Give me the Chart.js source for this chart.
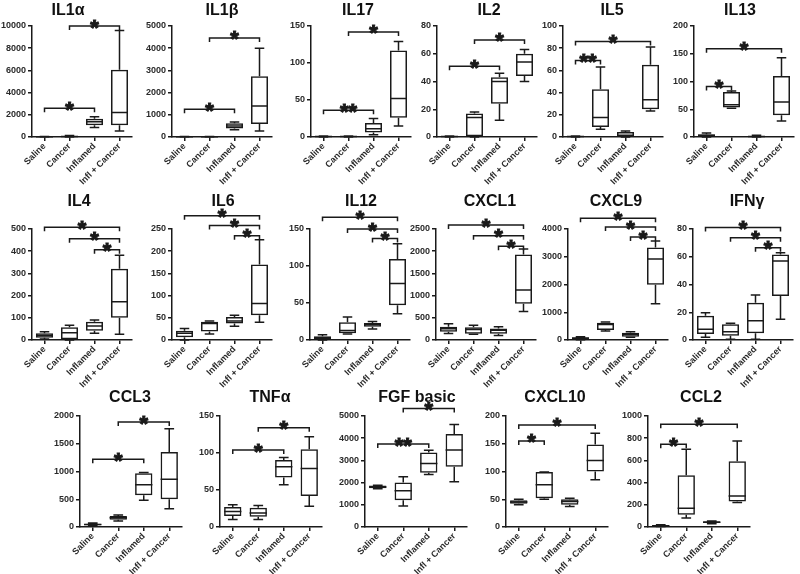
<!DOCTYPE html>
<html>
<head>
<meta charset="utf-8">
<script src="https://cdn.jsdelivr.net/npm/chart.js@4.4.1/dist/chart.umd.min.js"></script>
<style>
  body { margin: 0; background: #fff; }
  #fig { position: relative; width: 800px; height: 574px; overflow: hidden; background: #fff; }
  #fig canvas { position: absolute; }
  .ttl { position: absolute; font: bold 16px "Liberation Sans", Arial, sans-serif; line-height: 16px; color: #111; transform: translateX(-50%); white-space: nowrap; }
</style>
</head>
<body>
<div id="fig"></div>
<script>
// Groups on every x axis
const groups = ['Saline', 'Cancer', 'Inflamed', 'Infl + Cancer'];

// Box summaries per group: [min, q1, median, q3, max]
// Significance brackets: [fromGroup, toGroup, level, mark]
const il1a = [[0, 5, 15, 30, 50], [0, 20, 50, 100, 140], [850, 1050, 1380, 1650, 1830], [550, 1050, 2200, 6050, 9600]];
const il1aTicks = [0, 2000, 4000, 6000, 8000, 10000];
const il1aSig = [[0, 2, 2580, '*'], [1, 3, 10000, '*']];

const il1b = [[0, 3, 8, 15, 20], [0, 3, 8, 15, 22], [330, 380, 500, 620, 680], [270, 580, 1400, 2740, 4000]];
const il1bTicks = [0, 1000, 2000, 3000, 4000, 5000];
const il1bSig = [[0, 2, 1250, '*'], [1, 3, 4460, '*']];

const il17 = [[0, 0.3, 0.6, 1, 1.2], [0, 0.3, 0.6, 1, 1.2], [3, 6, 11, 19, 25], [15, 26, 52, 117, 129]];
const il17Ticks = [0, 50, 100, 150];
const il17Sig = [[0, 2, 36, '**'], [1, 3, 142, '*']];

const il2 = [[0, 0.2, 0.4, 0.6, 0.8], [0, 0.5, 14, 17, 18], [12, 24, 40, 43, 46], [40, 44, 54, 60, 63]];
const il2Ticks = [0, 20, 40, 60, 80];
const il2Sig = [[0, 2, 51, '*'], [1, 3, 70, '*']];

const il5 = [[0, 0.2, 0.4, 0.6, 0.8], [7, 9, 17.5, 43, 63], [0, 0.5, 1.5, 4.5, 5.5], [23.5, 25, 33.5, 65, 81]];
const il5Ticks = [0, 20, 40, 60, 80, 100];
const il5Sig = [[0, 1, 69, '**'], [0, 3, 86, '*']];

const il13 = [[0, 1, 2.5, 5, 7], [52, 53, 58, 81, 83], [0, 0.5, 1, 2, 3], [29, 39, 63, 110, 143]];
const il13Ticks = [0, 50, 100, 150, 200];
const il13Sig = [[0, 1, 91, '*'], [0, 3, 159, '*']];

const il4 = [[4, 10, 20, 30, 37], [0, 3, 33, 57, 67], [30, 42, 63, 82, 90], [26, 100, 172, 321, 382]];
const il4Ticks = [0, 100, 200, 300, 400, 500];
const il4Sig = [[0, 3, 508, '*'], [1, 3, 456, '*'], [2, 3, 407, '*']];

const il6 = [[0, 6, 15, 21, 26], [13.5, 19, 37, 41, 43], [31, 37, 43, 52, 56], [40, 56, 82, 170, 226]];
const il6Ticks = [0, 50, 100, 150, 200, 250];
const il6Sig = [[0, 3, 280, '*'], [1, 3, 258, '*'], [2, 3, 235, '*']];

const il12 = [[0, 1, 3, 5, 7], [8, 9, 13, 24, 31], [15, 18, 21, 23, 25], [35.5, 47, 76.5, 109.5, 130]];
const il12Ticks = [0, 50, 100, 150];
const il12Sig = [[0, 3, 166, '*'], [1, 3, 150, '*'], [2, 3, 137, '*']];

const cxcl1 = [[149, 186, 253, 297, 364], [127, 142, 238, 289, 333], [104, 142, 222, 260, 297], [644, 815, 1125, 1925, 2050]];
const cxcl1Ticks = [0, 500, 1000, 1500, 2000, 2500];
const cxcl1Sig = [[0, 3, 2590, '*'], [1, 3, 2346, '*'], [2, 3, 2110, '*']];

const cxcl9 = [[10, 30, 60, 100, 120], [321, 357, 560, 620, 650], [96, 118, 203, 260, 296], [1310, 1990, 2915, 3330, 3570]];
const cxcl9Ticks = [0, 1000, 2000, 3000, 4000];
const cxcl9Sig = [[0, 3, 4390, '*'], [1, 3, 4070, '*'], [2, 3, 3710, '*']];

const ifng = [[2, 4.3, 7.7, 17.5, 19.7], [0.5, 3, 6, 11.3, 12], [0.5, 4.8, 13.9, 26.9, 32.4], [14.9, 31.7, 57, 61.7, 62.9]];
const ifngTicks = [0, 20, 40, 60, 80];
const ifngSig = [[0, 3, 81, '*'], [1, 3, 73.7, '*'], [2, 3, 66.5, '*']];

const ccl3 = [[20, 30, 45, 60, 70], [110, 130, 165, 200, 215], [480, 570, 760, 970, 980], [330, 500, 860, 1350, 1770]];
const ccl3Ticks = [0, 500, 1000, 1500, 2000];
const ccl3Sig = [[0, 2, 1220, '*'], [1, 3, 1890, '*']];

const tnfa = [[10, 15, 21, 27, 30], [10, 14, 19, 26, 29], [57, 67, 81.5, 90.5, 94], [28, 42, 79, 105, 122]];
const tnfaTicks = [0, 50, 100, 150];
const tnfaSig = [[0, 2, 104, '*'], [1, 3, 134, '*']];

const fgf = [[1720, 1750, 1800, 1870, 1880], [950, 1200, 1635, 2010, 2260], [2370, 2445, 2865, 3360, 3460], [2040, 2715, 3465, 4190, 4620]];
const fgfTicks = [0, 1000, 2000, 3000, 4000, 5000];
const fgfSig = [[0, 2, 3735, '**'], [1, 3, 5340, '*']];

const cxcl10 = [[40, 42, 45, 48, 50], [50, 52, 76, 99, 99], [37, 40, 46, 50, 52], [85, 100, 120, 148.7, 168.7]];
const cxcl10Ticks = [0, 50, 100, 150, 200];
const cxcl10Sig = [[0, 1, 155, '*'], [0, 3, 184, '*']];

const ccl2 = [[5, 8, 12, 16, 20], [80, 110, 170, 467, 700], [30, 35, 42, 52, 55], [220, 230, 280, 592, 775]];
const ccl2Ticks = [0, 200, 400, 600, 800, 1000];
const ccl2Sig = [[0, 1, 745, '*'], [0, 3, 925, '*']];

// Layout of the three rows (plot top edge, title centre, plot width)
const rows = [
    { top: 26, titleY: 10, plotW: 100 },
    { top: 229, titleY: 201, plotW: 100 },
    { top: 416, titleY: 397, plotW: 102 }
];

const panels = [
    { title: 'IL1α', box: il1a, ticks: il1aTicks, sig: il1aSig, row: 0, axisX: 32, titleX: 68 },
    { title: 'IL1β', box: il1b, ticks: il1bTicks, sig: il1bSig, row: 0, axisX: 172, titleX: 222 },
    { title: 'IL17', box: il17, ticks: il17Ticks, sig: il17Sig, row: 0, axisX: 311, titleX: 358 },
    { title: 'IL2', box: il2, ticks: il2Ticks, sig: il2Sig, row: 0, axisX: 437, titleX: 489 },
    { title: 'IL5', box: il5, ticks: il5Ticks, sig: il5Sig, row: 0, axisX: 563, titleX: 612 },
    { title: 'IL13', box: il13, ticks: il13Ticks, sig: il13Sig, row: 0, axisX: 694, titleX: 740 },
    { title: 'IL4', box: il4, ticks: il4Ticks, sig: il4Sig, row: 1, axisX: 32, titleX: 79 },
    { title: 'IL6', box: il6, ticks: il6Ticks, sig: il6Sig, row: 1, axisX: 172, titleX: 223 },
    { title: 'IL12', box: il12, ticks: il12Ticks, sig: il12Sig, row: 1, axisX: 310, titleX: 361 },
    { title: 'CXCL1', box: cxcl1, ticks: cxcl1Ticks, sig: cxcl1Sig, row: 1, axisX: 436, titleX: 490 },
    { title: 'CXCL9', box: cxcl9, ticks: cxcl9Ticks, sig: cxcl9Sig, row: 1, axisX: 568, titleX: 616 },
    { title: 'IFNγ', box: ifng, ticks: ifngTicks, sig: ifngSig, row: 1, axisX: 693, titleX: 747 },
    { title: 'CCL3', box: ccl3, ticks: ccl3Ticks, sig: ccl3Sig, row: 2, axisX: 80, titleX: 130 },
    { title: 'TNFα', box: tnfa, ticks: tnfaTicks, sig: tnfaSig, row: 2, axisX: 220, titleX: 270 },
    { title: 'FGF basic', box: fgf, ticks: fgfTicks, sig: fgfSig, row: 2, axisX: 365, titleX: 417 },
    { title: 'CXCL10', box: cxcl10, ticks: cxcl10Ticks, sig: cxcl10Sig, row: 2, axisX: 506, titleX: 555 },
    { title: 'CCL2', box: ccl2, ticks: ccl2Ticks, sig: ccl2Sig, row: 2, axisX: 648, titleX: 701 }
];

const INK = '#1a1a1a';
const TXT = '#2a2a2a';
const FONT = '"Liberation Sans", Arial, sans-serif';

// Draws medians, whiskers and the significance brackets on top of the boxes
const boxExtras = {
    id: 'boxExtras',
    afterDatasetsDraw(chart, args, opts) {
        const { ctx } = chart;
        const x = chart.scales.x, y = chart.scales.y;
        const meta = chart.getDatasetMeta(0);
        ctx.save();
        ctx.strokeStyle = INK;
        ctx.lineWidth = 1.5;
        opts.box.forEach((b, i) => {
            const bar = meta.data[i];
            const cx = bar.x, half = bar.width / 2, cap = bar.width * 0.28;
            const py = v => y.getPixelForValue(v);
            ctx.beginPath();
            ctx.moveTo(cx - half, py(b[2])); ctx.lineTo(cx + half, py(b[2]));
            ctx.moveTo(cx, py(b[3])); ctx.lineTo(cx, py(b[4]));
            ctx.moveTo(cx, py(b[1])); ctx.lineTo(cx, py(b[0]));
            ctx.moveTo(cx - cap, py(b[4])); ctx.lineTo(cx + cap, py(b[4]));
            ctx.moveTo(cx - cap, py(b[0])); ctx.lineTo(cx + cap, py(b[0]));
            ctx.stroke();
        });
        ctx.fillStyle = INK;
        ctx.font = 'bold 22px ' + FONT;
        ctx.textAlign = 'center';
        ctx.textBaseline = 'alphabetic';
        opts.sig.forEach(([a, c, v, mark]) => {
            const x1 = x.getPixelForValue(a), x2 = x.getPixelForValue(c), yy = y.getPixelForValue(v);
            ctx.lineWidth = 1.5;
            ctx.beginPath();
            ctx.moveTo(x1, yy + 4); ctx.lineTo(x1, yy); ctx.lineTo(x2, yy); ctx.lineTo(x2, yy + 4);
            ctx.stroke();
            // heavier star marks, like the bold asterisks of the figure
            ctx.lineWidth = 1;
            ctx.fillText(mark, (x1 + x2) / 2, yy + 8.5);
            ctx.strokeText(mark, (x1 + x2) / 2, yy + 8.5);
        });
        ctx.restore();
    }
};

const fig = document.getElementById('fig');
const AXW = 44, PADT = 34, PLOTH = 111, XAXH = 58, PADR = 14;

function makePanel(p) {
    const row = rows[p.row];
    const w = AXW + row.plotW + PADR, h = PADT + PLOTH + XAXH;

    const canvas = document.createElement('canvas');
    canvas.width = w;
    canvas.height = h;
    canvas.style.left = (p.axisX - AXW) + 'px';
    canvas.style.top = (row.top - PADT) + 'px';
    canvas.style.width = w + 'px';
    canvas.style.height = h + 'px';
    fig.appendChild(canvas);

    const title = document.createElement('div');
    title.className = 'ttl';
    title.textContent = p.title;
    title.style.left = p.titleX + 'px';
    title.style.top = (row.titleY - 8) + 'px';
    fig.appendChild(title);

    const axisLine = { display: true, drawOnChartArea: false, offset: false, tickLength: 4, color: INK, lineWidth: 1.5 };

    new Chart(canvas, {
        type: 'bar',
        data: {
            labels: groups,
            datasets: [{
                data: p.box.map(b => [b[1], b[3]]),
                backgroundColor: 'rgba(255,255,255,0)',
                borderColor: INK,
                borderWidth: 1.5,
                borderSkipped: false,
                barPercentage: 0.68,
                categoryPercentage: 1
            }]
        },
        options: {
            responsive: false,
            animation: false,
            events: [],
            layout: { padding: { top: PADT, right: PADR, left: 0, bottom: 0 } },
            plugins: {
                legend: { display: false },
                tooltip: { enabled: false },
                boxExtras: { box: p.box, sig: p.sig }
            },
            scales: {
                x: {
                    grid: axisLine,
                    border: { display: true, color: INK, width: 1.5 },
                    ticks: { minRotation: 45, maxRotation: 45, autoSkip: false, padding: 0, color: TXT, font: { family: FONT, size: 9, weight: 'bold' } },
                    afterFit: s => { s.height = XAXH; }
                },
                y: {
                    min: 0,
                    max: p.ticks[p.ticks.length - 1],
                    grid: axisLine,
                    border: { display: true, color: INK, width: 1.5 },
                    ticks: { padding: 2, color: TXT, font: { family: FONT, size: 9, weight: 'bold' }, callback: v => String(v) },
                    afterBuildTicks: s => { s.ticks = p.ticks.map(v => ({ value: v })); },
                    afterFit: s => { s.width = AXW; }
                }
            }
        },
        plugins: [boxExtras]
    });
}

panels.forEach(makePanel);
</script>
</body>
</html>
